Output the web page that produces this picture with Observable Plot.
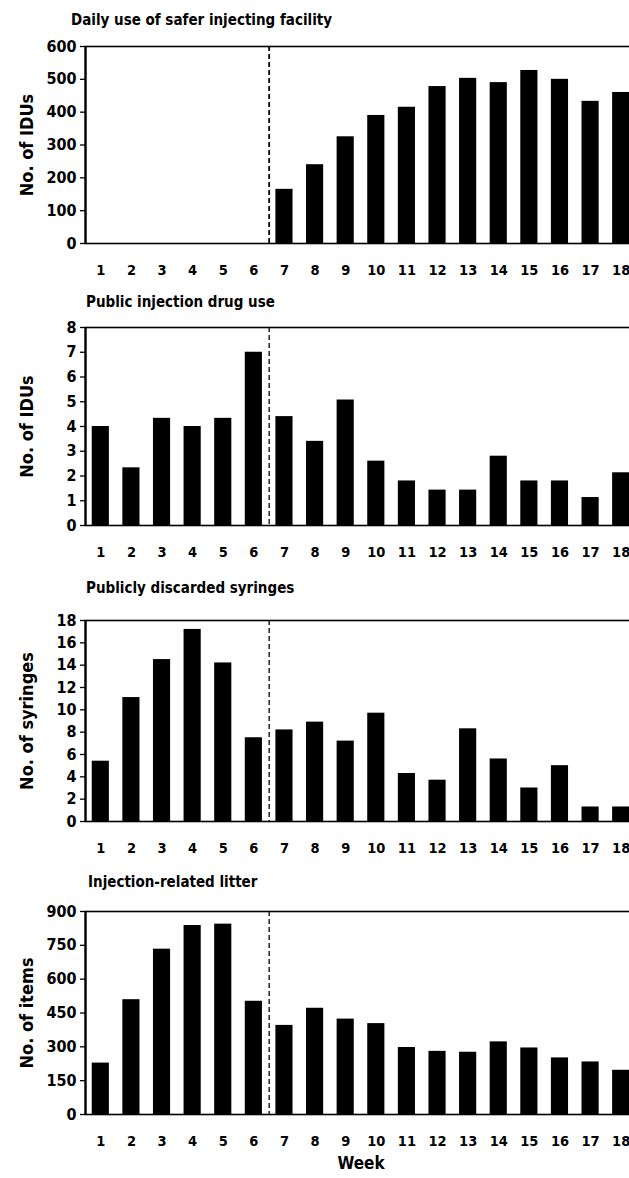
<!DOCTYPE html>
<html>
<head>
<meta charset="utf-8">
<script src="https://cdn.jsdelivr.net/npm/d3@7"></script>
<script src="https://cdn.jsdelivr.net/npm/@observablehq/plot@0.6"></script>
<style>
  html, body { margin: 0; padding: 0; background: #fff; }
  body { width: 629px; height: 1178px; position: relative; overflow: hidden;
         font-family: "DejaVu Sans Condensed", "DejaVu Sans", sans-serif; color: #000; }
  .title { position: absolute; font-weight: bold; font-size: 15px; line-height: 16px; white-space: nowrap; }
  .panel { position: absolute; left: 0; }
  .panel svg { overflow: visible; }
</style>
</head>
<body>
<script>
// ---- data ----
const weeks = [1, 2, 3, 4, 5, 6, 7, 8, 9, 10, 11, 12, 13, 14, 15, 16, 17, 18];
const facilityUse = [null, null, null, null, null, null, 165, 240, 325, 390, 415, 478, 503, 490, 527, 500, 433, 460];
const publicInjection = [4.0, 2.33, 4.33, 4.0, 4.33, 7.0, 4.4, 3.4, 5.07, 2.6, 1.8, 1.43, 1.43, 2.8, 1.8, 1.8, 1.13, 2.13];
const discardedSyringes = [5.4, 11.1, 14.5, 17.2, 14.2, 7.5, 8.2, 8.9, 7.2, 9.7, 4.3, 3.7, 8.3, 5.6, 3.0, 5.0, 1.3, 1.3];
const injectionLitter = [228, 509, 733, 838, 844, 502, 395, 471, 423, 403, 297, 280, 276, 322, 295, 251, 233, 196];

const facilityTicks = [0, 100, 200, 300, 400, 500, 600];
const publicTicks = [0, 1, 2, 3, 4, 5, 6, 7, 8];
const syringeTicks = [0, 2, 4, 6, 8, 10, 12, 14, 16, 18];
const litterTicks = [0, 150, 300, 450, 600, 750, 900];

const titles = ["Daily use of safer injecting facility", "Public injection drug use",
                "Publicly discarded syringes", "Injection-related litter"];
const yLabels = ["No. of IDUs", "No. of IDUs", "No. of syringes", "No. of items"];
const xLabel = "Week";
const facilityOpening = [6.5]; // dashed divider between week 6 and week 7

// ---- layout ----
const layout = [
  {titleX: 71, titleY: 12, top: 46, bottom: 243},
  {titleX: 86, titleY: 294, top: 327, bottom: 525},
  {titleX: 86, titleY: 580, top: 620, bottom: 821},
  {titleX: 88, titleY: 874, top: 911, bottom: 1114}
];
const seriesList = [facilityUse, publicInjection, discardedSyringes, injectionLitter];
const tickList = [facilityTicks, publicTicks, syringeTicks, litterTicks];
const halfBar = 0.28;
const fontStack = '"DejaVu Sans Condensed", "DejaVu Sans", sans-serif';

seriesList.forEach((values, i) => {
  const L = layout[i];
  const last = i === seriesList.length - 1;
  const t = document.createElement("div");
  t.className = "title";
  t.style.left = L.titleX + "px";
  t.style.top = L.titleY + "px";
  t.textContent = titles[i];
  document.body.appendChild(t);

  const data = weeks.map((w, j) => ({week: w, value: values[j]})).filter(d => d.value != null);
  const ticks = tickList[i];
  const marginTop = 10;
  const marginBottom = last ? 66 : 40;
  const height = (L.bottom - L.top) + marginTop + marginBottom;

  const chart = Plot.plot({
    width: 629,
    height,
    marginLeft: 85,
    marginRight: -7,
    marginTop,
    marginBottom,
    x: {domain: [0.5, 18.5]},
    y: {domain: [0, ticks[ticks.length - 1]]},
    style: {fontFamily: fontStack, fontSize: "14.5px",
            fontWeight: "bold", color: "#000", background: "transparent", overflow: "visible"},
    marks: [
      Plot.rectY(data, {x1: d => d.week - halfBar, x2: d => d.week + halfBar, y1: 0, y2: "value", fill: "#000"}),
      Plot.ruleX(facilityOpening, {stroke: "#000", strokeWidth: i === 0 ? 1.8 : 1.3, strokeDasharray: "5,3"}),
      Plot.frame({stroke: "#000", strokeWidth: 1.6}),
      Plot.ruleX([0.5], {stroke: "#000", strokeWidth: 2.2}),
      Plot.axisY({ticks, tickSize: 5, tickPadding: 4, label: null, tickFormat: d => d, strokeWidth: 1.3, fontSize: 16}),
      Plot.axisX({ticks: weeks, tickSize: 0, tickPadding: 21, label: null, tickFormat: d => d, fontSize: 14.5}),
      Plot.text([yLabels[i]], {text: d => d, frameAnchor: "left", textAnchor: "middle", rotate: -90, dx: -58, fontSize: 18, fontWeight: "bold"}),
      last ? Plot.text([xLabel], {text: d => d, frameAnchor: "bottom", dy: 54, fontSize: 17, fontWeight: "bold"}) : null
    ]
  });
  const wrap = document.createElement("div");
  wrap.className = "panel";
  wrap.style.top = (L.top - marginTop) + "px";
  wrap.appendChild(chart);
  document.body.appendChild(wrap);
});
</script>
</body>
</html>
